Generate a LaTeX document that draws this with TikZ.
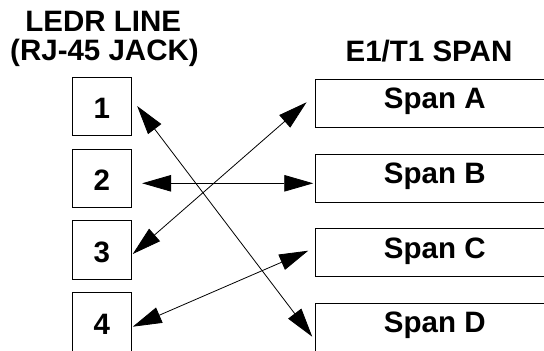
\documentclass[tikz,border=0pt]{standalone}
\usepackage{fontspec}
\setmainfont{Liberation Sans}
\usetikzlibrary{arrows.meta,calc}
\begin{document}
\begin{tikzpicture}[x=1pt,y=-1pt,
  every node/.style={font=\fontsize{29.5}{30}\selectfont\bfseries},
  pinbox/.style={draw, line width=0.9pt, minimum width=59.7pt, minimum height=58.5pt, inner sep=0pt, text height=25.3pt, text depth=0pt},
  spanbox/.style={draw, line width=0.9pt, minimum width=239pt, minimum height=48pt, inner sep=0pt, text height=20pt, text depth=9pt},
  head/.style={anchor=base, inner sep=0pt},
  link/.style={line width=0.8pt, {Triangle[length=29pt,width=16.5pt]}-{Triangle[length=29pt,width=16.5pt]}}
]
\clip (0,0) rectangle (544,351);
\fill[white] (0,0) rectangle (544,351);

% headings
\node[head] (hl1) at (103.3,31.7) {LEDR LINE};
\node[head] (hl2) at (104.5,60) {(RJ-45 JACK)};
\node[head] (hr) at (429,61.7) {E1/T1 SPAN};

% left pins
\node[pinbox] (n1) at (101.85,106.3) {1};
\node[pinbox] (n2) at (101.85,178.2) {2};
\node[pinbox] (n3) at (101.85,250.1) {3};
\node[pinbox] (n4) at (101.85,322.0) {4};

% right spans
\node[spanbox] (sA) at (434.8,103.3) {Span A};
\node[spanbox] (sB) at (434.8,178.0) {Span B};
\node[spanbox] (sC) at (434.8,252.7) {Span C};
\node[spanbox] (sD) at (434.8,327.4) {Span D};

% arrow end points
\coordinate (t1) at ($(n1.east)+(5,-0.3)$);
\coordinate (t2) at ($(n2.east)+(10,5.1)$);
\coordinate (t3) at ($(n3.east)+(0.6,3.9)$);
\coordinate (t4) at ($(n4.east)+(0.6,4.7)$);
\coordinate (tA) at ($(sA.west)+(-8.3,-1)$);
\coordinate (tB) at ($(sB.west)+(-1.6,5.3)$);
\coordinate (tC) at ($(sC.west)+(-6.6,-2)$);
\coordinate (tD) at ($(sD.west)+(-2.6,9.3)$);

\draw[link] (t1) -- (tD);
\draw[link] (t2) -- (tB);
\draw[link] (t3) -- (tA);
\draw[link] (t4) -- (tC);
\end{tikzpicture}
\end{document}
